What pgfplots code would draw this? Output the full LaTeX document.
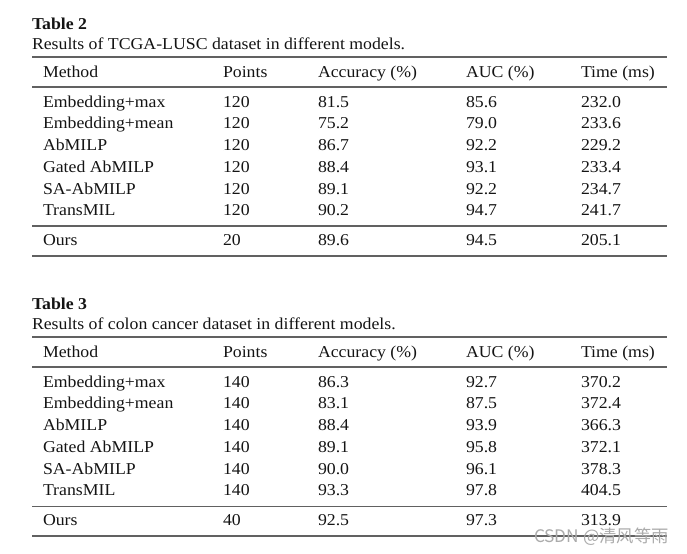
\documentclass[border=0pt]{standalone}
\usepackage{fontspec}
\setmainfont{Liberation Serif}[FakeStretch=1.07]
\newfontfamily\cjk{Noto Sans CJK SC}
\usepackage{pgfplots}
\usepackage{pgfplotstable}
\pgfplotsset{compat=1.18}

\pgfplotstableread[col sep=comma]{
y,Method,Points,Acc,AUC,Time
107.0,Embedding+max,120,81.5,85.6,232.0
128.5,Embedding+mean,120,75.2,79.0,233.6
150.5,AbMILP,120,86.7,92.2,229.2
172.2,Gated AbMILP,120,88.4,93.1,233.4
194.0,SA-AbMILP,120,89.1,92.2,234.7
215.7,TransMIL,120,90.2,94.7,241.7
245.0,Ours,20,89.6,94.5,205.1
}\tabA

\pgfplotstableread[col sep=comma]{
y,Method,Points,Acc,AUC,Time
387.0,Embedding+max,140,86.3,92.7,370.2
408.5,Embedding+mean,140,83.1,87.5,372.4
430.5,AbMILP,140,88.4,93.9,366.3
452.2,Gated AbMILP,140,89.1,95.8,372.1
474.0,SA-AbMILP,140,90.0,96.1,378.3
495.7,TransMIL,140,93.3,97.8,404.5
525.5,Ours,40,92.5,97.3,313.9
}\tabB

\pgfplotsset{
  txt/.style={only marks, mark=*, mark size=0pt, mark options={draw=none,fill=none},
    nodes near coords, point meta=explicit symbolic,
    every node near coord/.append style={anchor=base west, inner sep=0pt, outer sep=0pt,
      font=\fontsize{16.6bp}{19bp}\selectfont, text=black!92}},
  rule/.style={black!62, line width=1.5bp, mark=none},
}

\begin{document}
\begin{tikzpicture}
\begin{axis}[scale only axis, width=687bp, height=554bp,
  xmin=0, xmax=687, ymin=0, ymax=554, y dir=reverse,
  hide axis, clip=false]
\addplot[draw=none, mark=none] coordinates {(0,0) (687,554)};

% Titles
\addplot[txt] coordinates {(32,29.5) [\bfseries Table 2] (32,49.3) [Results of TCGA-LUSC dataset in different models.]};
\addplot[txt] coordinates {(32,309.5) [\bfseries Table 3] (32,329.3) [Results of colon cancer dataset in different models.]};

% Headers
\addplot[txt] coordinates {(43,77.3) [Method] (223,77.3) [Points] (318,77.3) [Accuracy (\%)] (466,77.3) [AUC (\%)] (581,77.3) [Time (ms)]};
\addplot[txt] coordinates {(43,357.3) [Method] (223,357.3) [Points] (318,357.3) [Accuracy (\%)] (466,357.3) [AUC (\%)] (581,357.3) [Time (ms)]};

% Table 2 body
\addplot[txt] table[x expr=43, y=y, meta=Method] {\tabA};
\addplot[txt] table[x expr=223, y=y, meta=Points] {\tabA};
\addplot[txt] table[x expr=318, y=y, meta=Acc] {\tabA};
\addplot[txt] table[x expr=466, y=y, meta=AUC] {\tabA};
\addplot[txt] table[x expr=581, y=y, meta=Time] {\tabA};

% Table 3 body
\addplot[txt] table[x expr=43, y=y, meta=Method] {\tabB};
\addplot[txt] table[x expr=223, y=y, meta=Points] {\tabB};
\addplot[txt] table[x expr=318, y=y, meta=Acc] {\tabB};
\addplot[txt] table[x expr=466, y=y, meta=AUC] {\tabB};
\addplot[txt] table[x expr=581, y=y, meta=Time] {\tabB};

% Rules
\addplot[rule] coordinates {(32,56.8) (667,56.8)};
\addplot[rule] coordinates {(32,86.8) (667,86.8)};
\addplot[rule] coordinates {(32,225.8) (667,225.8)};
\addplot[rule] coordinates {(32,255.8) (667,255.8)};
\addplot[rule] coordinates {(32,336.8) (667,336.8)};
\addplot[rule] coordinates {(32,366.8) (667,366.8)};
\addplot[rule] coordinates {(32,506.3) (667,506.3)};
\addplot[rule] coordinates {(32,536.0) (667,536.0)};

% Watermark
\addplot[only marks, mark=*, mark size=0pt, mark options={draw=none,fill=none},
  nodes near coords, point meta=explicit symbolic,
  every node near coord/.append style={anchor=base east, inner sep=0pt,
    font=\cjk\fontsize{17.3bp}{19bp}\selectfont, text=black!33}]
  coordinates {(669,542.5) [CSDN @清风等雨]};
\end{axis}
\end{tikzpicture}
\end{document}
